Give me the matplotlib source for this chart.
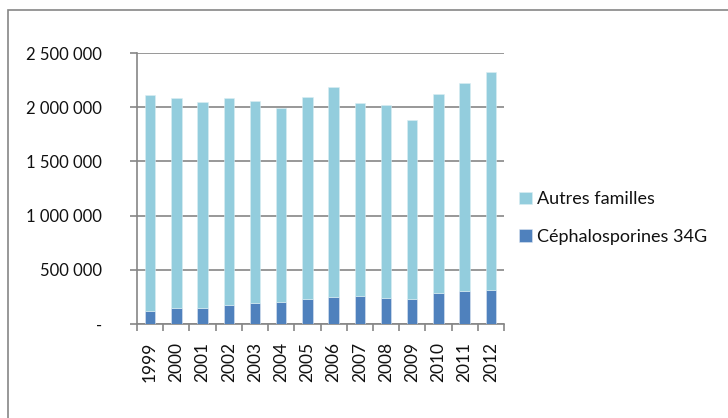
import matplotlib
matplotlib.use("Agg")
import matplotlib.pyplot as plt
from matplotlib.patches import Rectangle
from matplotlib.ticker import FuncFormatter
import numpy as np

years = ["1999", "2000", "2001", "2002", "2003", "2004", "2005", "2006",
         "2007", "2008", "2009", "2010", "2011", "2012"]
cephalo = [120000, 150000, 148000, 173000, 192000, 200000, 229000, 248000,
           260000, 241000, 229000, 288000, 307000, 316000]
totals = [2113000, 2082000, 2045000, 2088000, 2060000, 1993000, 2094000, 2186000,
          2036000, 2023000, 1885000, 2125000, 2221000, 2325000]
autres = [t - c for t, c in zip(totals, cephalo)]

plt.rcParams['font.family'] = ['Lato', 'DejaVu Sans']

fig = plt.figure(figsize=(7.28, 4.18), dpi=100)
ax = fig.add_axes([137/728, 1-324/418, (504-137)/728, (324-53)/418])

grey = "#868686"
x = np.arange(len(years))
w = 0.4
b1 = ax.bar(x, cephalo, w, color="#4F81BD", edgecolor="#DCE6F2", linewidth=0.4,
            label="Céphalosporines 34G", zorder=3)
b2 = ax.bar(x, autres, w, bottom=cephalo, color="#93CDDD", edgecolor="#DAEEF3",
            linewidth=0.4, label="Autres familles", zorder=3)

ax.set_xlim(-0.5, len(years) - 0.5)
ax.set_ylim(0, 2500000)
ax.set_yticks(np.arange(0, 2500001, 500000))

def fmt(v, pos):
    if v == 0:
        return "-"
    return f"{int(v):,}".replace(",", " ")

ax.yaxis.set_major_formatter(FuncFormatter(fmt))
ax.yaxis.grid(True, color=grey, linewidth=1.2, zorder=0)
ax.set_axisbelow(True)

ax.set_xticks(x)
ax.set_xticklabels(years, rotation=90, fontsize=12.5, color="#111111")
ax.tick_params(axis='x', length=0, pad=13)
ax.set_xticks(np.arange(-0.5, len(years) + 0.5, 1), minor=True)
ax.tick_params(axis='x', which='minor', length=5, color=grey, width=1.2)
ax.tick_params(axis='y', length=5, color=grey, width=1.2, labelsize=12,
               pad=20, labelcolor="#111111")
for lbl in ax.get_yticklabels():
    lbl.set_horizontalalignment('right')

for s in ["top", "right"]:
    ax.spines[s].set_visible(False)
for s in ["left", "bottom"]:
    ax.spines[s].set_color(grey)
    ax.spines[s].set_linewidth(1.2)

handles = [b2, b1]
leg = fig.legend(handles, ["Autres familles", "Céphalosporines 34G"],
                 loc="center left", bbox_to_anchor=(512/728, 1-218/418),
                 frameon=False, fontsize=13, handlelength=0.7, handleheight=0.7,
                 handletextpad=0.3, labelspacing=1.2, borderaxespad=0)
for t in leg.get_texts():
    t.set_color("#111111")

fig.patches.append(Rectangle((8/728, -0.1), 1.2, 1 - 10/418 + 0.1,
                             transform=fig.transFigure, fill=False,
                             edgecolor=grey, linewidth=1.2))

fig.savefig("out.png", dpi=100)
